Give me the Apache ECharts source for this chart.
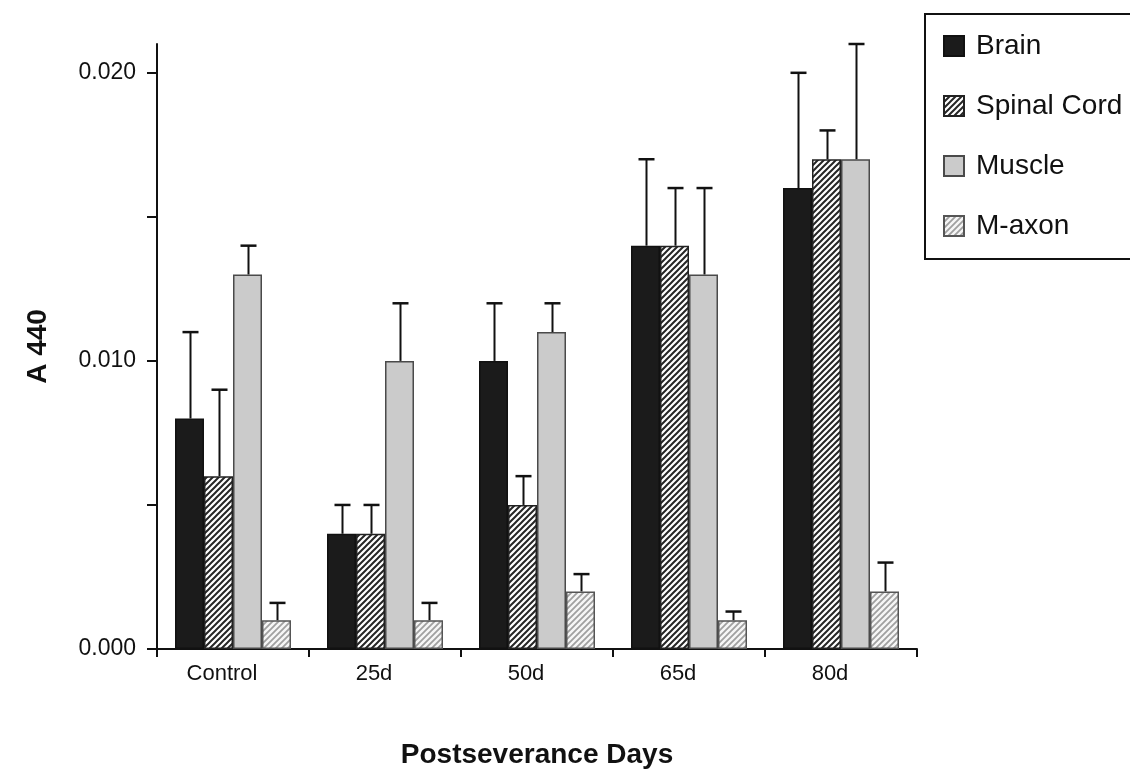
<!DOCTYPE html>
<html><head><meta charset="utf-8">
<script src="https://cdn.jsdelivr.net/npm/echarts@6/dist/echarts.min.js"></script>
<style>html,body{margin:0;padding:0;background:#fff}#chart{width:1130px;height:771px}</style>
</head><body><div id="chart"></div>
<script>
// ---- data ----
const categories = ['Control', '25d', '50d', '65d', '80d'];
const seriesNames = ['Brain', 'Spinal Cord', 'Muscle', 'M-axon'];
const brain      = [0.008, 0.004, 0.010, 0.014, 0.016];
const spinalCord = [0.006, 0.004, 0.005, 0.014, 0.017];
const muscle     = [0.013, 0.010, 0.011, 0.013, 0.017];
const mAxon      = [0.001, 0.001, 0.002, 0.001, 0.002];
// top of the (upper) error bars
const brainErrTop      = [0.011, 0.005, 0.012, 0.017, 0.020];
const spinalCordErrTop = [0.009, 0.005, 0.006, 0.016, 0.018];
const muscleErrTop     = [0.014, 0.012, 0.012, 0.016, 0.021];
const mAxonErrTop      = [0.0016, 0.0016, 0.0026, 0.0013, 0.003];
const yLabelValues = [0, 0.010, 0.020];
const yTickValues  = [0, 0.005, 0.010, 0.015, 0.020];

// ---- styles ----
function stripes(bg, fg, size, lw) {
  const c = document.createElement('canvas');
  c.width = size; c.height = size;
  const g = c.getContext('2d');
  g.fillStyle = bg; g.fillRect(0, 0, size, size);
  g.strokeStyle = fg; g.lineWidth = lw; g.beginPath();
  for (const k of [-size, 0, size]) { g.moveTo(k - 1, size + 1); g.lineTo(k + size + 1, -1); }
  g.stroke();
  return c;
}
const BW = 29;
const SANS = "'Liberation Sans',Arial,Helvetica,sans-serif";
const styles = [
  { color: '#1b1b1b', borderColor: '#111', borderWidth: 1.5 },
  { color: { image: stripes('#ffffff', '#262626', 6, 2.0), repeat: 'repeat' }, borderColor: '#222', borderWidth: 1.5 },
  { color: '#cbcbcb', borderColor: '#4a4a4a', borderWidth: 1.5 },
  { color: { image: stripes('#f6f6f6', '#a0a0a0', 6, 1.8), repeat: 'repeat' }, borderColor: '#555', borderWidth: 1.5 }
];
const values = [brain, spinalCord, muscle, mAxon];
const tops = [brainErrTop, spinalCordErrTop, muscleErrTop, mAxonErrTop];

const errData = [];
values.forEach((vals, s) => vals.forEach((v, i) => errData.push([i, s, v, tops[s][i]])));

const chart = echarts.init(document.getElementById('chart'), null, { renderer: 'canvas' });
chart.setOption({
  animation: false,
  backgroundColor: '#fff',
  grid: { left: 157, right: 213, top: 44, bottom: 122, containLabel: false, outerBoundsMode: 'none' },
  legend: {
    data: seriesNames, orient: 'vertical', left: 925, top: 14,
    itemWidth: 20, itemHeight: 20, itemGap: 32, icon: 'rect',
    padding: [18, 60, 19, 18], borderColor: '#111', borderWidth: 2,
    textStyle: { fontSize: 28, fontFamily: SANS, color: '#111', padding: [0, 0, 0, 7] }
  },
  xAxis: {
    type: 'category', data: categories, boundaryGap: true,
    name: 'Postseverance Days', nameLocation: 'middle', nameGap: 92,
    nameTextStyle: { fontSize: 28, fontWeight: 'bold', fontFamily: SANS, color: '#111' },
    axisLine: { lineStyle: { color: '#111', width: 2 } },
    axisTick: { show: true, length: 8, lineStyle: { color: '#111', width: 2 } },
    axisLabel: { fontSize: 22, fontFamily: SANS, color: '#111', margin: 14, padding: [0, 22, 0, 0] }
  },
  yAxis: {
    type: 'value', min: 0, max: 0.021, interval: 0.005,
    name: 'A 440', nameLocation: 'middle', nameGap: 105, nameRotate: 90,
    nameTextStyle: { fontSize: 28, fontWeight: 'bold', fontFamily: SANS, color: '#111' },
    axisLine: { show: true, lineStyle: { color: '#111', width: 2 } },
    axisTick: { show: true, length: 10, customValues: yTickValues, lineStyle: { color: '#111', width: 2 } },
    axisLabel: { customValues: yLabelValues, formatter: v => v.toFixed(3), fontSize: 23, fontFamily: SANS, color: '#111', margin: 21 },
    splitLine: { show: false }
  },
  series: seriesNames.map((n, s) => ({
    name: n, type: 'bar', data: values[s], barWidth: BW, barGap: '0%',
    itemStyle: styles[s]
  })).concat([{
    type: 'custom', z: 10, silent: true,
    encode: { x: 0, y: 3 },
    data: errData,
    renderItem: (params, api) => {
      const cat = api.value(0), s = api.value(1);
      const base = api.coord([cat, api.value(2)]);
      const top = api.coord([cat, api.value(3)]);
      const x = Math.round(base[0] + (s - 1.5) * BW) + 0.5;
      return {
        type: 'group', children: [
          { type: 'line', shape: { x1: x, y1: base[1], x2: x, y2: top[1] }, style: { stroke: '#111', lineWidth: 2 } },
          { type: 'line', shape: { x1: x - 8, y1: top[1], x2: x + 8, y2: top[1] }, style: { stroke: '#111', lineWidth: 2.5 } }
        ]
      };
    }
  }])
});
</script>
</body></html>
